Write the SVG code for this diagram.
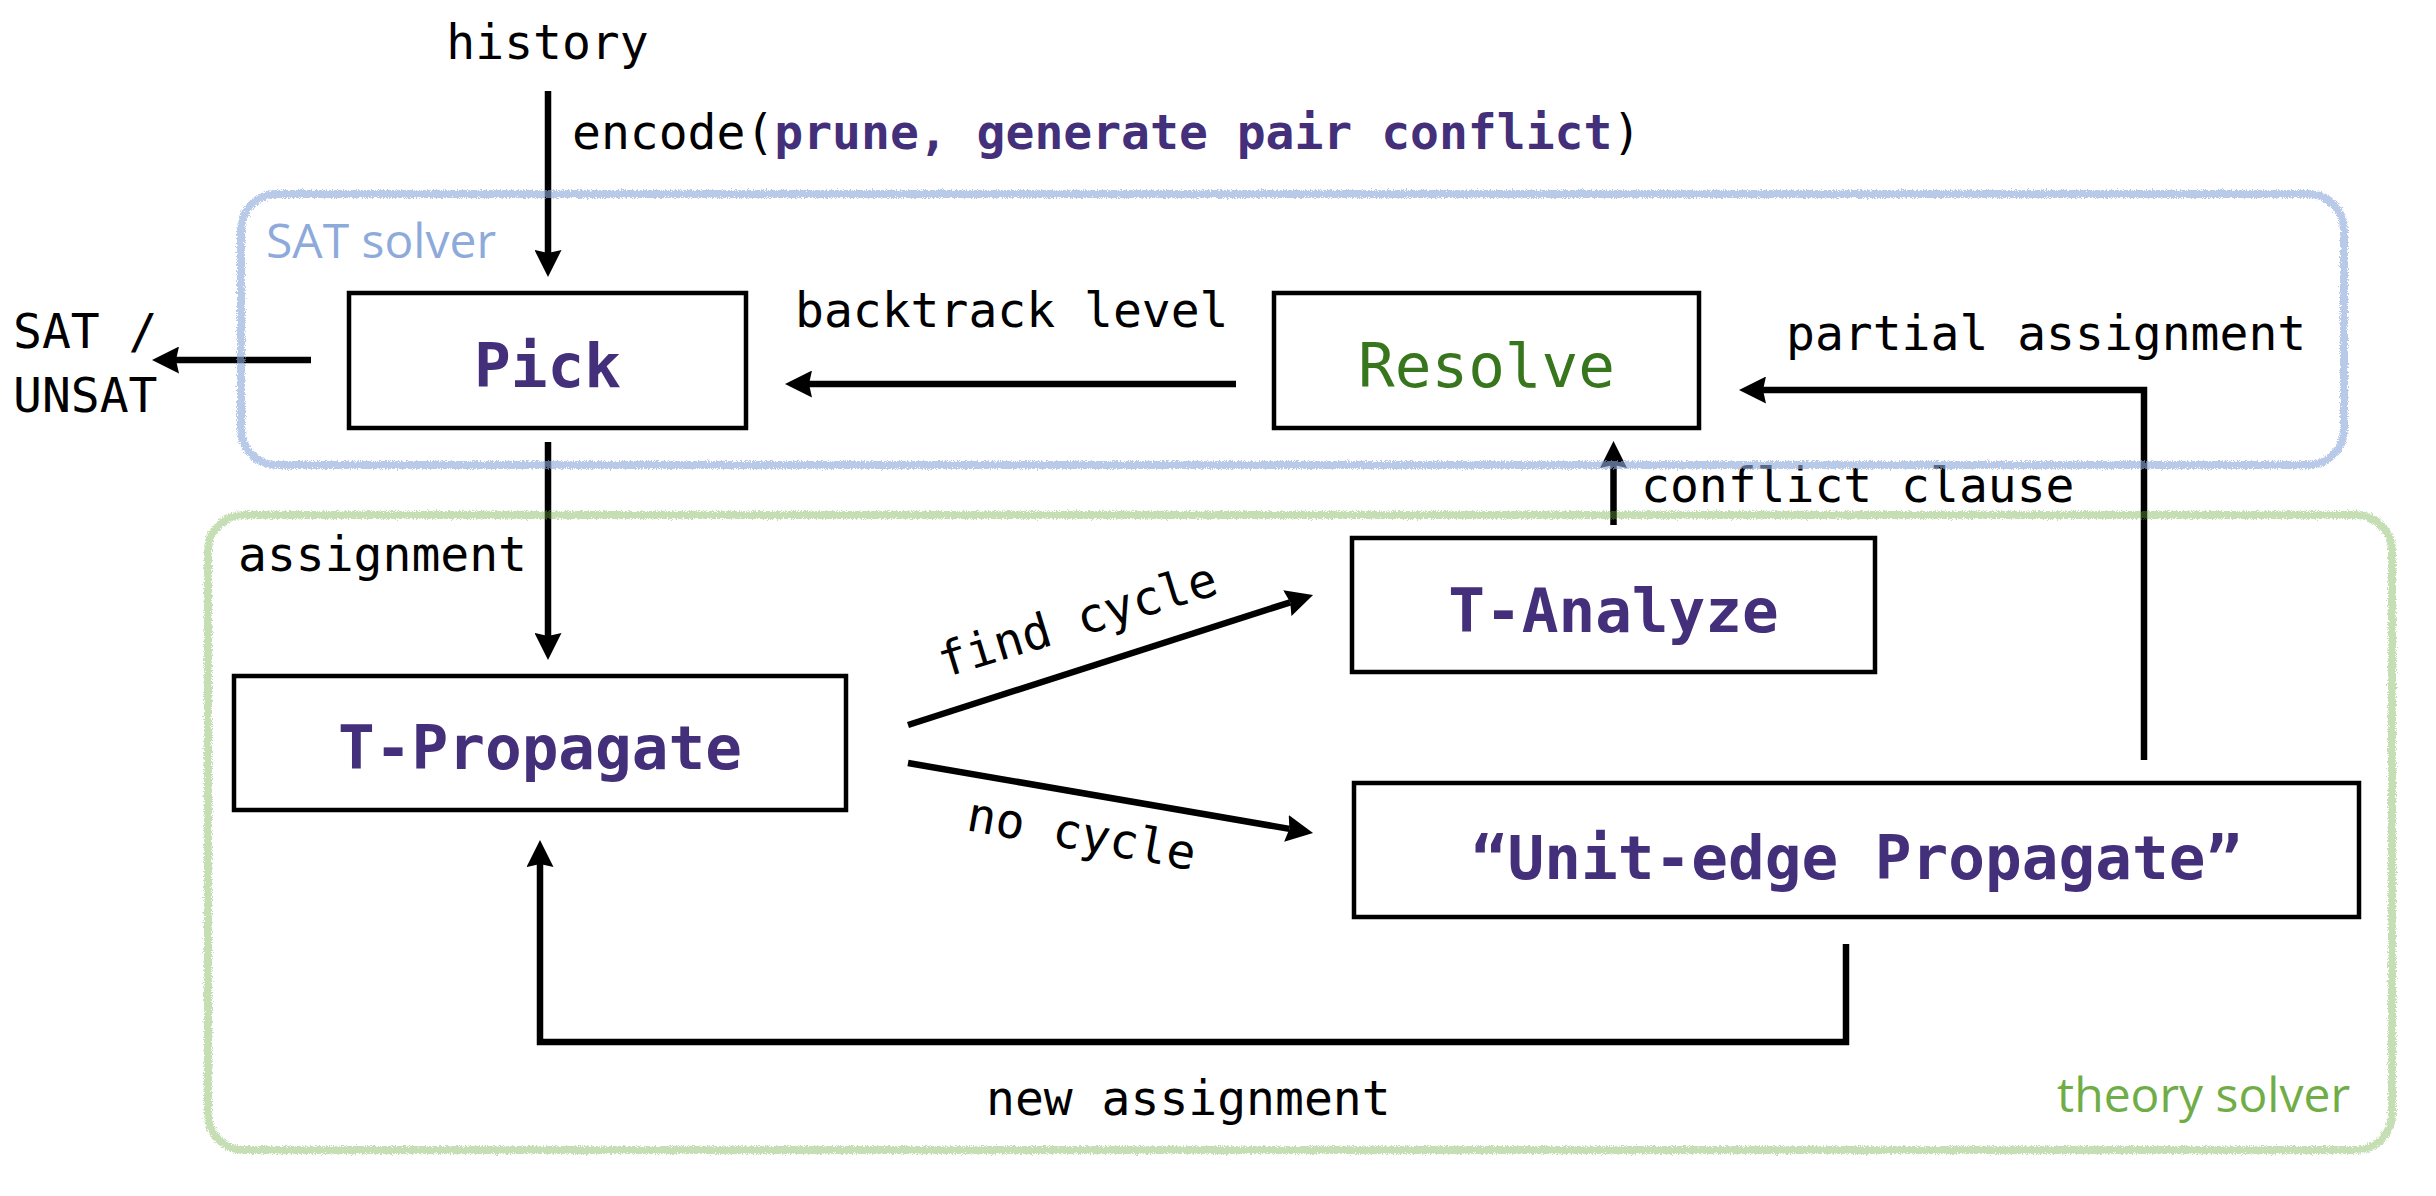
<svg xmlns="http://www.w3.org/2000/svg" width="2436" height="1196" viewBox="0 0 2436 1196">
  <defs>
    <style>
      .box { fill: #ffffff; stroke: #000000; stroke-width: 4.5; }
      .lbl { font-family: "DejaVu Sans Mono", "Liberation Mono", monospace; font-size: 48px; fill: #000000; }
      .node { font-family: "DejaVu Sans Mono", "Liberation Mono", monospace; font-size: 61px; text-anchor: middle; }
      .bold { font-weight: bold; fill: #432f7a; }
      .green { fill: #38761d; }
      .bp { font-weight: bold; fill: #432f7a; }
      .conn { fill: none; stroke: #000000; stroke-width: 6.5; stroke-linejoin: miter; stroke-linecap: butt; marker-end: url(#ah); }
      .cont { fill: none; stroke-width: 8; filter: url(#rough); }
      .ctitle { font-family: "Open Sans", "Liberation Sans", sans-serif; font-size: 48px; }
    </style>
    <marker id="ah" markerUnits="userSpaceOnUse" markerWidth="27" markerHeight="27" viewBox="0 0 27 27" refX="3" refY="13.5" orient="auto">
      <path d="M0,0 L27,13.5 L0,27 L3,13.5 z" fill="#000000"/>
    </marker>
    <filter id="rough" x="-5%" y="-5%" width="110%" height="110%">
      <feTurbulence type="fractalNoise" baseFrequency="1.2" numOctaves="2" seed="3" result="noise"/>
      <feDisplacementMap in="SourceGraphic" in2="noise" scale="6" xChannelSelector="R" yChannelSelector="G"/>
    </filter>
  </defs>

  <rect width="2436" height="1196" fill="#ffffff"/>

  <!-- connectors -->
  <g id="connectors">
    <path class="conn" d="M548,91 V253"/>
    <path class="conn" d="M548,442 V636"/>
    <path class="conn" d="M311,360 H176"/>
    <path class="conn" d="M1236,384 H809"/>
    <path class="conn" d="M1613.5,525 V465"/>
    <path class="conn" d="M2144,760 V390 H1763"/>
    <path class="conn" d="M908,725 L1290.2,602.3"/>
    <path class="conn" d="M908,763 L1289.4,828.9"/>
    <path class="conn" d="M1846,944 V1042 H540 V864"/>
  </g>

  <!-- connector labels -->
  <g id="labels">
    <text class="lbl" x="547.5" y="59" text-anchor="middle">history</text>
    <text class="lbl" x="572" y="149">encode(<tspan class="bp">prune, generate pair conflict</tspan>)</text>
    <text class="lbl" x="13" y="348">SAT /</text>
    <text class="lbl" x="13" y="412">UNSAT</text>
    <text class="lbl" x="795" y="327">backtrack level</text>
    <text class="lbl" x="1786" y="350">partial assignment</text>
    <text class="lbl" x="1641" y="502">conflict clause</text>
    <text class="lbl" x="238" y="571">assignment</text>
    <text class="lbl" x="944" y="678" transform="rotate(-17 944 678)">find cycle</text>
    <text class="lbl" x="965" y="830" transform="rotate(10 965 830)">no cycle</text>
    <text class="lbl" x="986" y="1115">new assignment</text>
  </g>

  <!-- nodes -->
  <g id="pick">
    <rect class="box" x="349" y="293" width="397" height="135"/>
    <text class="node bold" x="547.5" y="387">Pick</text>
  </g>
  <g id="resolve">
    <rect class="box" x="1274" y="293" width="425" height="135"/>
    <text class="node green" x="1486.5" y="387">Resolve</text>
  </g>
  <g id="t-analyze">
    <rect class="box" x="1352" y="538" width="523" height="134"/>
    <text class="node bold" x="1613.5" y="632">T-Analyze</text>
  </g>
  <g id="t-propagate">
    <rect class="box" x="234" y="676" width="612" height="134"/>
    <text class="node bold" x="540" y="769">T-Propagate</text>
  </g>
  <g id="unit-edge-propagate">
    <rect class="box" x="1354" y="783" width="1005" height="134"/>
    <text class="node bold" x="1856.5" y="879">“Unit-edge Propagate”</text>
  </g>

  <!-- containers -->
  <g id="sat-solver">
    <rect class="cont" x="241" y="194" width="2103" height="271" rx="36" stroke="#8eaadb" stroke-opacity="0.62"/>
    <text class="ctitle" x="266" y="258" fill="#8eaadb">SAT solver</text>
  </g>
  <g id="theory-solver">
    <rect class="cont" x="208" y="515" width="2184" height="635" rx="36" stroke="#70ad47" stroke-opacity="0.4"/>
    <text class="ctitle" x="2350" y="1112" fill="#70ad47" text-anchor="end">theory solver</text>
  </g>
</svg>
